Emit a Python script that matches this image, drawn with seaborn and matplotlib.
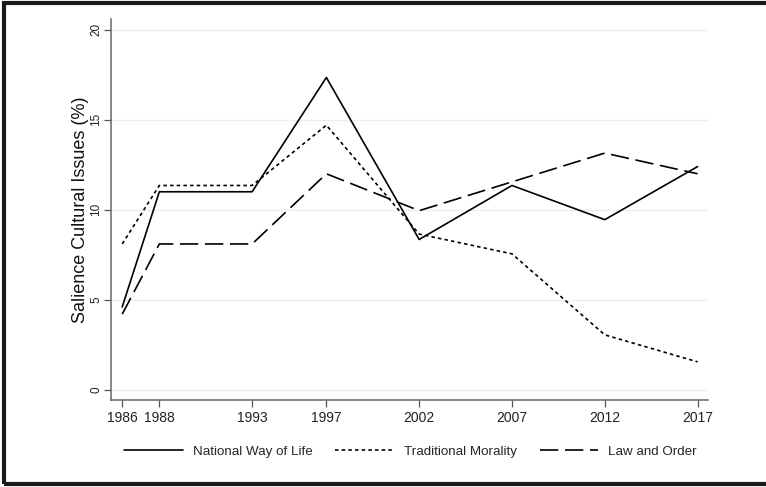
import matplotlib
matplotlib.use("Agg")
import matplotlib.pyplot as plt
import seaborn as sns
import pandas as pd
from matplotlib.patches import Rectangle

years = [1986, 1988, 1993, 1997, 2002, 2007, 2012, 2017]
national_way_of_life = [4.6, 11.0, 11.0, 17.35, 8.35, 11.35, 9.45, 12.4]
traditional_morality = [8.1, 11.35, 11.35, 14.7, 8.65, 7.55, 3.05, 1.55]
law_and_order = [4.2, 8.1, 8.1, 12.0, 9.95, 11.55, 13.15, 12.0]
series_names = ["National Way of Life", "Traditional Morality", "Law and Order"]
y_ticks = [0, 5, 10, 15, 20]

df = pd.concat([
    pd.DataFrame({"year": years, "value": vals, "series": name})
    for name, vals in zip(series_names, [national_way_of_life, traditional_morality, law_and_order])
])

sns.set_theme(style="white")
plt.rcParams['font.family'] = ['Liberation Sans', 'DejaVu Sans']

fig = plt.figure(figsize=(7.66, 4.87), dpi=100)
ax = fig.add_axes([0.145, 0.179, 0.779, 0.782])

dashes = {
    "National Way of Life": "",
    "Traditional Morality": (2.1, 1.9),
    "Law and Order": (11, 4),
}
sns.lineplot(data=df, x="year", y="value", hue="series", style="series",
             palette=["black"] * 3, dashes=dashes, linewidth=1.2, ax=ax,
             hue_order=series_names, style_order=series_names)

ax.set_xlim(1985.4, 2017.55)
ax.set_ylim(-0.56, 20.6)
ax.set_xticks(years)
ax.set_xticklabels([str(y) for y in years], fontsize=10, color="#222222")
ax.set_yticks(y_ticks)
ax.set_yticklabels([str(t) for t in y_ticks], fontsize=8.5, color="#222222",
                   rotation=90, va="center")
for t in y_ticks:
    ax.axhline(t, color="#e8f0f1", linewidth=1.0, zorder=0)
ax.set_xlabel("")
ax.set_ylabel("Salience Cultural Issues (%)", fontsize=13, color="#111111")
ax.yaxis.set_label_coords(-0.037, 0.5)
ax.tick_params(axis="x", direction="out", length=5, width=0.9, color="#555555",
               bottom=True, pad=3)
ax.tick_params(axis="y", direction="out", length=5, width=0.9, color="#555555",
               left=True, pad=1.5)
for s in ["top", "right"]:
    ax.spines[s].set_visible(False)
for s in ["left", "bottom"]:
    ax.spines[s].set_color("#666666")
    ax.spines[s].set_linewidth(1.1)

handles, labels = ax.get_legend_handles_labels()
ax.legend_.remove()
fig.legend(handles, labels, loc="center", bbox_to_anchor=(0.536, 0.072), ncol=3,
           frameon=False, fontsize=9.6, handlelength=4.4, columnspacing=1.7,
           handletextpad=0.75)

fig.patches.append(Rectangle((0.005, 0.006), 1.2, 0.988, transform=fig.transFigure,
                             fill=False, edgecolor="#1a1a1a", linewidth=3))

fig.savefig("out.png", dpi=100)
